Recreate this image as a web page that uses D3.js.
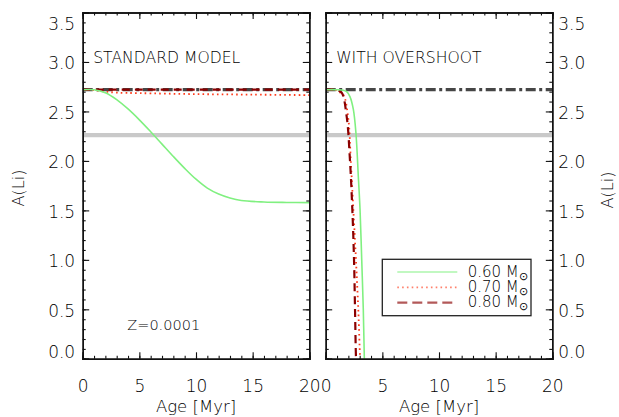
<!DOCTYPE html>
<html>
<head>
<meta charset="utf-8">
<script src="https://cdn.jsdelivr.net/npm/d3@7"></script>
<style>
  html, body { margin: 0; padding: 0; background: #fff; }
  svg text { font-family: "DejaVu Sans", "Liberation Sans", sans-serif; font-weight: 200; fill: #000; }
</style>
</head>
<body>
<svg id="chart" width="619" height="417"></svg>
<script>
// Lithium abundance A(Li) vs age for low-metallicity pre-main-sequence models
const panelTitles = ["STANDARD MODEL", "WITH OVERSHOOT"];
const massLabels = ["0.60", "0.70", "0.80"];
const xTicks = [0, 5, 10, 15, 20];
const yTicks = [0.0, 0.5, 1.0, 1.5, 2.0, 2.5, 3.0, 3.5];
const initialLi = 2.72;   // dash-dot reference level
const plateauLi = 2.26;   // grey horizontal band
const metallicityLabel = "Z=0.0001";

// standard model tracks
const stdAge060 = [0, 1, 2, 3, 4, 5, 6, 7, 8, 9, 10, 11, 12, 13, 14, 16, 18, 20];
const stdLi060  = [2.72, 2.72, 2.69, 2.62, 2.525, 2.415, 2.295, 2.17, 2.045, 1.925, 1.815, 1.725, 1.665, 1.625, 1.60, 1.585, 1.58, 1.578];
const stdAge070 = [0, 1, 2, 3, 5, 10, 15, 20];
const stdLi070  = [2.72, 2.715, 2.70, 2.69, 2.685, 2.675, 2.67, 2.665];
const stdAge080 = [0, 5, 10, 15, 20];
const stdLi080  = [2.72, 2.72, 2.72, 2.72, 2.72];

// overshoot model tracks
const ovAge060 = [0, 1.0, 1.55, 1.85, 2.14, 2.44, 2.67, 2.88, 3.03, 3.18, 3.32, 3.41, 3.45];
const ovLi060  = [2.72, 2.72, 2.715, 2.70, 2.65, 2.52, 2.28, 1.84, 1.51, 1.00, 0.49, 0.0, -0.1];
const ovAge070 = [0, 0.82, 1.11, 1.55, 2.0, 2.21, 2.44, 2.67, 2.88, 3.03, 3.1];
const ovLi070  = [2.72, 2.72, 2.70, 2.67, 2.42, 2.01, 1.51, 1.0, 0.49, 0.02, -0.1];
const ovAge080 = [0, 0.67, 1.0, 1.41, 1.85, 2.14, 2.35, 2.5, 2.59, 2.67, 2.72];
const ovLi080  = [2.72, 2.72, 2.715, 2.69, 2.45, 2.01, 1.51, 1.0, 0.49, 0.02, -0.1];

const zip = (a, b) => a.map((x, i) => ({ x, y: b[i] }));
const panels = [
  { title: panelTitles[0], series: [zip(stdAge060, stdLi060), zip(stdAge070, stdLi070), zip(stdAge080, stdLi080)] },
  { title: panelTitles[1], series: [zip(ovAge060, ovLi060), zip(ovAge070, ovLi070), zip(ovAge080, ovLi080)] }
];

const styles = [
  { color: "#80f080", width: 1.6, dash: null },
  { color: "#ff3a1a", width: 1.8, dash: "1.6,3.2" },
  { color: "#8b0000", width: 2.2, dash: "8,5" }
];

const svg = d3.select("#chart");
const plotTop = 12.5, plotBottom = 358.8;
const panelX = [[82.7, 309.3], [325.7, 552.3]];
const y = d3.scaleLinear().domain([0, 3.5]).range([plotBottom, plotTop]);
const tickFont = 17;

panels.forEach((p, pi) => {
  const [x0, x1] = panelX[pi];
  const x = d3.scaleLinear().domain([0, 20]).range([x0, x1]);
  const g = svg.append("g");

  const clipId = "clip" + pi;
  svg.append("clipPath").attr("id", clipId)
    .append("rect").attr("x", x0).attr("y", plotTop).attr("width", x1 - x0).attr("height", plotBottom - plotTop);
  const plot = g.append("g").attr("clip-path", `url(#${clipId})`);

  // grey plateau band
  plot.append("line")
    .attr("x1", x(0)).attr("x2", x(20)).attr("y1", y(plateauLi)).attr("y2", y(plateauLi))
    .attr("stroke", "#c9c9c9").attr("stroke-width", 4.3);
  // initial abundance reference
  plot.append("line")
    .attr("x1", x(0)).attr("x2", x(20)).attr("y1", y(initialLi)).attr("y2", y(initialLi))
    .attr("stroke", "#464646").attr("stroke-width", 3.2).attr("stroke-dasharray", "10,3.5,3,3.5");

  const line = d3.line().x(d => x(d.x)).y(d => y(d.y)).curve(d3.curveCatmullRom.alpha(0.5));
  // draw 0.70 first, then 0.80, then 0.60 on top
  [1, 2, 0].forEach(si => {
    const st = styles[si];
    plot.append("path").datum(p.series[si])
      .attr("d", line).attr("fill", "none")
      .attr("stroke", st.color).attr("stroke-width", st.width)
      .attr("stroke-dasharray", st.dash);
  });

  // axes: major and minor ticks on all four sides, pointing inward
  const frame = g.append("g");
  const addAxis = (axis, tx, ty) => frame.append("g").attr("transform", `translate(${tx},${ty})`).call(axis);
  const fmtY = d3.format(".1f");
  const minorY = d3.range(0, 36).map(v => v / 10);

  const left = addAxis(d3.axisLeft(y).tickValues(yTicks).tickSize(-6.5).tickPadding(7.5)
    .tickFormat(pi === 0 ? fmtY : ""), x0, 0);
  addAxis(d3.axisLeft(y).tickValues(minorY).tickSize(-3).tickFormat(""), x0, 0);
  const right = addAxis(d3.axisRight(y).tickValues(yTicks).tickSize(-6.5).tickPadding(6)
    .tickFormat(pi === 1 ? fmtY : ""), x1, 0);
  addAxis(d3.axisRight(y).tickValues(minorY).tickSize(-3).tickFormat(""), x1, 0);
  addAxis(d3.axisBottom(x).tickValues(xTicks).tickSize(-6.5).tickPadding(21).tickFormat(d3.format("d")), 0, plotBottom);
  addAxis(d3.axisBottom(x).tickValues(d3.range(0, 21)).tickSize(-3).tickFormat(""), 0, plotBottom);
  addAxis(d3.axisTop(x).tickValues(xTicks).tickSize(-6.5).tickFormat(""), 0, plotTop);
  addAxis(d3.axisTop(x).tickValues(d3.range(0, 21)).tickSize(-3).tickFormat(""), 0, plotTop);

  frame.selectAll(".domain").attr("stroke", "#111").attr("stroke-width", 1.4);
  frame.selectAll(".tick line").attr("stroke", "#111").attr("stroke-width", 1.1);
  frame.selectAll(".tick text").attr("font-size", tickFont).attr("font-family", null).attr("fill", "#000");

  // keep the end labels of the vertical axes inside the frame
  [left, right].forEach(ax => ax.selectAll(".tick text").attr("dy", d => {
    if (d === 3.5) return "1.0em";
    if (d === 0) return "-0.1em";
    return "0.41em";
  }));

  g.append("text").attr("x", x0 + 10.5).attr("y", 63.3)
    .attr("font-size", 15.6)
    .text(p.title);

  g.append("text").attr("x", (x0 + x1) / 2).attr("y", 411.7)
    .attr("text-anchor", "middle").attr("font-size", 16.5)
    .text("Age [Myr]");
});

// y-axis titles on both outer sides
[[18, 188], [607, 190]].forEach(([cx, cy]) => {
  svg.append("text")
    .attr("transform", `translate(${cx},${cy}) rotate(-90)`)
    .attr("text-anchor", "middle").attr("dy", "0.35em").attr("font-size", 16)
    .text("A(Li)");
});

// metallicity label
svg.append("text").attr("x", 127.3).attr("y", 330).attr("font-size", 14.5).text(metallicityLabel);

// legend
const lg = svg.append("g");
lg.append("rect").attr("x", 382.3).attr("y", 259.3).attr("width", 148.7).attr("height", 56.4)
  .attr("fill", "#fff").attr("stroke", "#222").attr("stroke-width", 1.3);
massLabels.forEach((m, i) => {
  const st = styles[i];
  const ly = 272 + i * 15.3;
  lg.append("line").attr("x1", 397.3).attr("x2", 457.3).attr("y1", ly).attr("y2", ly)
    .attr("stroke", st.color).attr("stroke-width", st.width).attr("stroke-opacity", 0.65)
    .attr("stroke-dasharray", i === 2 ? "10,5" : st.dash);
  const t = lg.append("text").attr("x", 467.7).attr("y", ly + 4.7).attr("font-size", 15);
  t.append("tspan").text(m + "  M");
  t.append("tspan").attr("font-size", 11).attr("dy", 3).text("\u2299");
});
</script>
</body>
</html>
